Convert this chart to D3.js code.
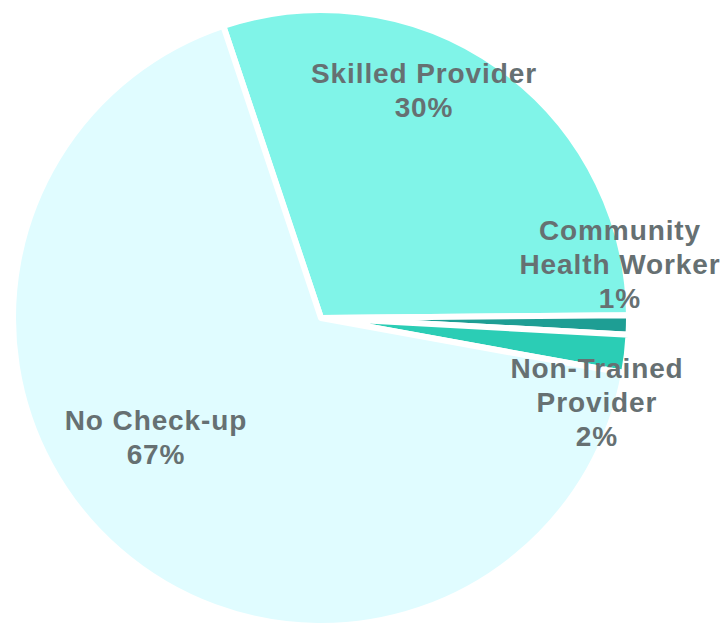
<!DOCTYPE html>
<html>
<head>
<meta charset="utf-8">
<script src="https://cdn.jsdelivr.net/npm/d3@7"></script>
<style>
  html, body { margin: 0; padding: 0; background: #ffffff; }
  svg { display: block; }
</style>
</head>
<body>
<svg id="chart" width="725" height="628"></svg>
<script>
// Antenatal check-up provider shares
const categories = ["Skilled Provider", "Community Health Worker", "Non-Trained Provider", "No Check-up"];
const values = [30, 1, 2, 67];
const labelLines = [
  ["Skilled Provider"],
  ["Community", "Health Worker"],
  ["Non-Trained", "Provider"],
  ["No Check-up"]
];

// Slice colours and label anchor points (centre x, first baseline y)
const colors = ["#80f4e8", "#1e9e94", "#2bcdb5", "#e0fcff"];
const labelAnchors = [[424, 83], [620, 240], [597, 378], [156, 430]];

const width = 725, height = 628;
const cx = 321, cy = 318, radius = 308;
const lineGap = 34;

const svg = d3.select("#chart");
const g = svg.append("g").attr("transform", `translate(${cx},${cy})`);

const start = -18.5 * Math.PI / 180;
const pie = d3.pie().sort(null).startAngle(start).endAngle(start + 2 * Math.PI);
const arcs = pie(values);
const arc = d3.arc().innerRadius(0).outerRadius(radius);

g.selectAll("path.slice")
  .data(arcs)
  .join("path")
  .attr("class", "slice")
  .attr("d", arc)
  .attr("fill", (d, i) => colors[i])
  .attr("stroke", "#ffffff")
  .attr("stroke-width", 6)
  .attr("stroke-linejoin", "round");

// Data labels: category name lines followed by the percentage
const labels = svg.selectAll("text.lbl")
  .data(categories)
  .join("text")
  .attr("class", "lbl")
  .attr("x", (d, i) => labelAnchors[i][0])
  .attr("y", (d, i) => labelAnchors[i][1])
  .attr("text-anchor", "middle")
  .attr("fill", "#667072")
  .style("font-family", "'Liberation Sans', Arial, sans-serif")
  .style("font-weight", "bold")
  .style("font-size", "28px")
  .style("letter-spacing", "0.9px");

labels.each(function(d, i) {
  const t = d3.select(this);
  const lines = labelLines[i].concat([values[i] + "%"]);
  lines.forEach((line, k) => {
    t.append("tspan")
      .attr("x", labelAnchors[i][0])
      .attr("dy", k === 0 ? 0 : lineGap)
      .text(line);
  });
});
</script>
</body>
</html>
